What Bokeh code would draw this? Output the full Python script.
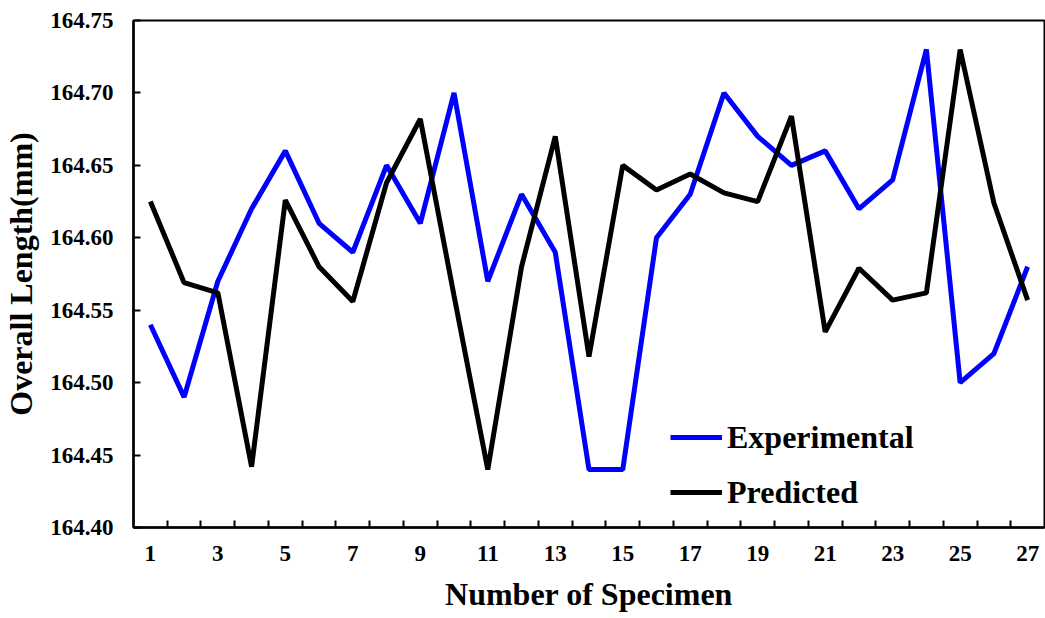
from bokeh.plotting import figure
from bokeh.models import Range1d, FixedTicker, Legend, LegendItem, NumeralTickFormatter
from bokeh.embed import file_html
from bokeh.resources import INLINE

specimen = list(range(1, 28))
experimental = [164.54, 164.49, 164.57, 164.62, 164.66, 164.61, 164.59, 164.65, 164.61,
                164.70, 164.57, 164.63, 164.59, 164.44, 164.44, 164.60, 164.63, 164.70,
                164.67, 164.65, 164.66, 164.62, 164.64, 164.73, 164.50, 164.52, 164.58]
predicted = [164.625, 164.569, 164.562, 164.442, 164.626, 164.580, 164.556, 164.638, 164.682,
             164.560, 164.440, 164.580, 164.670, 164.518, 164.650, 164.633, 164.644, 164.631,
             164.625, 164.684, 164.535, 164.579, 164.557, 164.562, 164.730, 164.624, 164.557]
y_ticks = [164.40, 164.45, 164.50, 164.55, 164.60, 164.65, 164.70, 164.75]
x_label_ticks = list(range(1, 28, 2))
x_minor_ticks = [i + 0.5 for i in range(1, 27)]

FONT = "Liberation Serif, Times New Roman, serif"

p = figure(width=1045, height=618, output_backend="svg", toolbar_location=None,
           x_range=Range1d(0.5, 27.5), y_range=Range1d(164.40, 164.75),
           min_border_left=0, min_border_right=1, min_border_top=20, min_border_bottom=91)
p.grid.visible = False
p.outline_line_color = "black"
p.outline_line_width = 2
p.background_fill_color = "white"
p.border_fill_color = "white"

r1 = p.line(specimen, experimental, line_color="#0000ff", line_width=5)
r2 = p.line(specimen, predicted, line_color="black", line_width=5)

# x axis
xa = p.xaxis[0]
xa.ticker = FixedTicker(ticks=x_label_ticks, minor_ticks=x_minor_ticks)
xa.major_tick_in = 0
xa.major_tick_out = 0
xa.minor_tick_in = 7
xa.minor_tick_out = 0
xa.minor_tick_line_width = 2
xa.axis_line_width = 2.5
xa.axis_line_color = "black"
xa.major_label_text_font = FONT
xa.major_label_text_font_style = "bold"
xa.major_label_text_font_size = "23px"
xa.major_label_text_color = "black"
xa.major_label_standoff = 18
xa.axis_label = "Number of Specimen"
xa.axis_label_text_font = FONT
xa.axis_label_text_font_style = "bold"
xa.axis_label_text_font_size = "32px"
xa.axis_label_text_color = "black"
xa.axis_label_standoff = 12

# y axis
ya = p.yaxis[0]
ya.ticker = FixedTicker(ticks=y_ticks, minor_ticks=[])
ya.formatter = NumeralTickFormatter(format="0.00")
ya.major_tick_in = 7
ya.major_tick_out = 0
ya.major_tick_line_width = 2
ya.axis_line_width = 2.5
ya.axis_line_color = "black"
ya.major_label_text_font = FONT
ya.major_label_text_font_style = "bold"
ya.major_label_text_font_size = "23px"
ya.major_label_text_color = "black"
ya.major_label_standoff = 20
ya.axis_label = "Overall Length(mm)"
ya.axis_label_text_font = FONT
ya.axis_label_text_font_style = "bold"
ya.axis_label_text_font_size = "32px"
ya.axis_label_text_color = "black"
ya.axis_label_standoff = 8

legend = Legend(items=[LegendItem(label="Experimental", renderers=[r1]),
                       LegendItem(label="Predicted", renderers=[r2])],
                location=(537, 15), orientation="vertical",
                glyph_width=52, glyph_height=40, label_height=40, spacing=15,
                padding=0, margin=0, label_standoff=5,
                border_line_color=None, background_fill_alpha=0,
                label_text_font=FONT, label_text_font_style="bold",
                label_text_font_size="32px", label_text_color="black")
p.add_layout(legend, "center")

open("out.html", "w").write(file_html(p, INLINE))
